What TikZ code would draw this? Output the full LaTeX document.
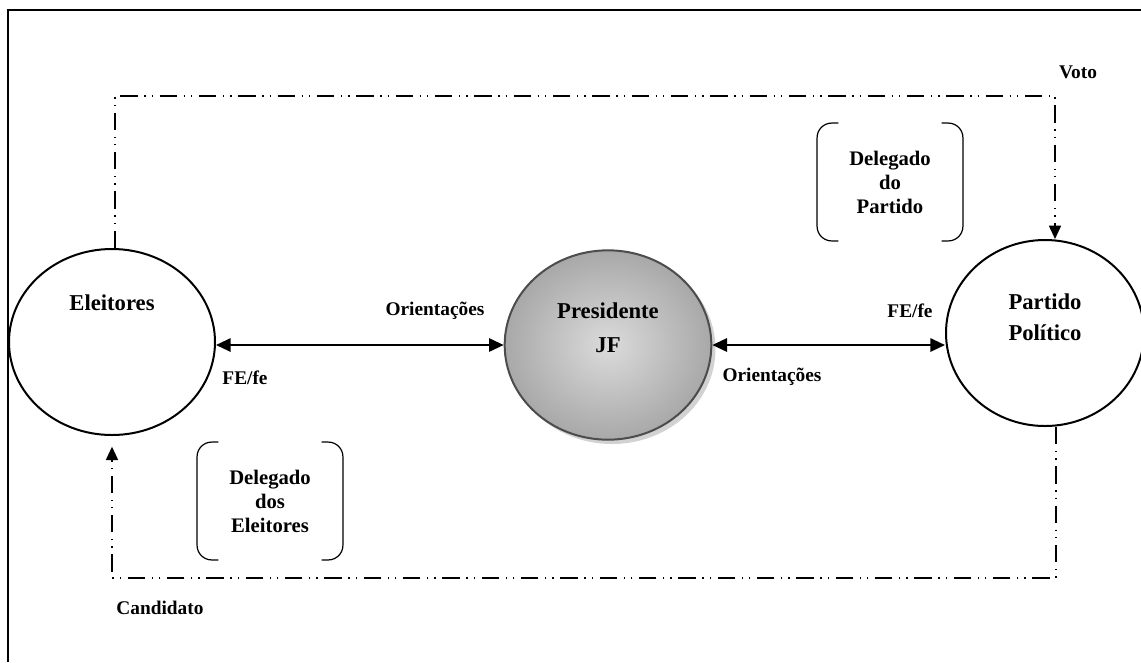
\documentclass[tikz,border=0pt]{standalone}
\usepackage{fontspec}
\setmainfont{Liberation Serif}
\usetikzlibrary{shapes.geometric,arrows.meta}

\begin{document}
\begin{tikzpicture}[x=0.75pt,y=0.75pt,yscale=-1,xscale=1,
  circ/.style={draw, ellipse, line width=1.5pt, inner sep=0pt},
  lbl/.style={font=\fontsize{17}{20}\selectfont\bfseries, align=center},
  small/.style={font=\fontsize{14.5}{17}\selectfont\bfseries, align=center},
  brkbox/.style={font=\fontsize{15.5}{18}\selectfont\bfseries, align=center, minimum width=109pt, minimum height=88pt},
  brk/.style={rounded corners=11pt, line width=0.9pt},
  biarrow/.style={{Triangle[length=11pt,width=10pt]}-{Triangle[length=11pt,width=10pt]}, line width=1.5pt},
  ddot/.style={line width=1.2pt, dash pattern=on 13pt off 5pt on 1pt off 4.5pt on 1pt off 5pt}]
\useasboundingbox (0,0) rectangle (1141,662);

%Frame
\draw [line width=1.5pt] (8,662) -- (8,10) -- (1141,10) ;

%Shape: Ellipse [Presidente, shadow]
\fill [gray!35] (612,349) ellipse (103.5 and 95) ;
%Shape: Ellipse [Eleitores]
\node [circ, minimum width=154.5pt, minimum height=139.5pt] (eleit) at (112,342) {};
%Shape: Ellipse [Presidente]
\node [circ, draw=gray!60!black, inner color=gray!28, outer color=gray!68, minimum width=155pt, minimum height=142pt] (pres) at (608,345) {};
%Shape: Ellipse [Partido]
\node [circ, minimum width=148.5pt, minimum height=139.5pt] (part) at (1045,333) {};

% Text Node
\node [lbl] (teleit) at (112,303) {Eleitores};
% Text Node
\node [lbl, font=\fontsize{17}{25.5}\selectfont\bfseries] (tpres) at (608,328) {Presidente\\JF};
% Text Node
\node [lbl, font=\fontsize{17}{23}\selectfont\bfseries] (tpart) at (1045,317) {Partido\\Político};

%Straight Lines [Eleitores - Presidente]
\draw [biarrow] (pres.west -| eleit.east) -- (pres.west) ;
%Straight Lines [Presidente - Partido]
\draw [biarrow] (pres.east) -- (part.west |- pres.east) ;

% Text Node
\node [small] (or1) at (435,311) {Orientações};
% Text Node
\node [small] (fe1) at (245,378) {FE/fe};
% Text Node
\node [small] (fe2) at (910,311) {FE/fe};
% Text Node
\node [small] (or2) at (772,377) {Orientações};

%Delegado do Partido
\node [brkbox] (dpart) at (890,182) {Delegado\\do\\Partido};
\draw [brk] ([xshift=16pt]dpart.north west) -- (dpart.north west) -- (dpart.south west) -- ([xshift=16pt]dpart.south west) ;
\draw [brk] ([xshift=-16pt]dpart.north east) -- (dpart.north east) -- (dpart.south east) -- ([xshift=-16pt]dpart.south east) ;
%Delegado dos Eleitores
\node [brkbox] (deleit) at (270,501) {Delegado\\dos\\Eleitores};
\draw [brk] ([xshift=16pt]deleit.north west) -- (deleit.north west) -- (deleit.south west) -- ([xshift=16pt]deleit.south west) ;
\draw [brk] ([xshift=-16pt]deleit.north east) -- (deleit.north east) -- (deleit.south east) -- ([xshift=-16pt]deleit.south east) ;

%Voto
\coordinate (tl) at (115,96) ;
\coordinate (tr) at (1055,96) ;
\draw [ddot, -{Triangle[length=10pt,width=9pt]}] (eleit.north -| tl) -- (tl) -- (tr) -- (part.north -| tr) ;
\node [small] (voto) at (1078,72) {Voto};

%Candidato
\coordinate (br) at (1056,578) ;
\coordinate (bl) at (112,578) ;
\draw [ddot, -{Triangle[length=10pt,width=9pt]}, shorten >=8pt] (part.south -| br) -- (br) -- (bl) -- (eleit.south) ;
\node [small] (cand) at (160,608) {Candidato};

\end{tikzpicture}
\end{document}
